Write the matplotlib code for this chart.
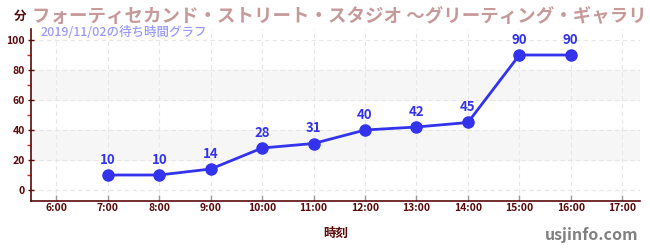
import matplotlib.pyplot as plt
from matplotlib.ticker import MultipleLocator

plt.rcParams['font.family'] = ['Noto Sans CJK JP', 'DejaVu Sans']

hours = [7, 8, 9, 10, 11, 12, 13, 14, 15, 16]
waits = [10, 10, 14, 28, 31, 40, 42, 45, 90, 90]
tick_hours = list(range(6, 18))
tick_labels = ['%d:00' % h for h in tick_hours]

title = 'フォーティセカンド・ストリート・スタジオ ～グリーティング・ギャラリ'
subtitle = '2019/11/02の待ち時間グラフ'

dark = '#5a0a0a'
line_col = '#3333ee'

fig = plt.figure(figsize=(6.5, 2.5), dpi=100)
ax = fig.add_axes([0.048, 0.198, 0.937, 0.684])

ax.set_xlim(5.51, 17.35)
ax.set_ylim(-7, 107)
for lo, hi in [(20, 40), (60, 80)]:
    ax.axhspan(lo, hi, color='#f6f6f6', zorder=0)
ax.grid(True, color='#e6e6e6', linestyle=(0, (4, 3)), linewidth=0.8, zorder=0)

ax.plot(hours, waits, color=line_col, linewidth=2.0, marker='o', markersize=8, zorder=3)
for h, w in zip(hours, waits):
    ax.annotate(str(w), (h, w), xytext=(0, 6), textcoords='offset points',
                ha='center', va='bottom', color=line_col, fontsize=9.5, fontweight='bold')

ax.set_xticks(tick_hours)
ax.set_xticklabels(tick_labels, fontweight='bold')
ax.set_yticks(range(0, 101, 20))
ax.set_yticklabels([str(v) for v in range(0, 101, 20)], fontweight='bold')
ax.yaxis.set_minor_locator(MultipleLocator(10))
ax.tick_params(axis='x', which='major', direction='in', color='#999999', length=4, width=1,
               pad=2, labelsize=7.5, labelcolor=dark)
ax.tick_params(axis='y', which='major', direction='inout', color=dark, length=5, width=1,
               pad=2, labelsize=7.5, labelcolor=dark)
ax.tick_params(axis='y', which='minor', direction='out', colors='#dd2222', length=3, width=1)

for s in ['top', 'right']:
    ax.spines[s].set_visible(False)
for s in ['left', 'bottom']:
    ax.spines[s].set_color(dark)
    ax.spines[s].set_linewidth(1.2)

ax.set_xlabel('時刻', color=dark, fontsize=9, fontweight='bold', labelpad=10)

fig.text(0.022, 0.935, '分', color=dark, fontsize=9, fontweight='bold', va='center')
fig.text(0.05, 0.935, title, color='#c79a9a', fontsize=13.3, fontweight='bold', va='center')
fig.text(0.063, 0.872, subtitle, color='#9999ff', fontsize=9, fontweight='medium', va='center')
fig.text(0.982, 0.06, 'usjinfo.com', color='#808080', fontsize=11.5, fontweight='bold',
         ha='right', va='center')

fig.savefig('out.png', dpi=100)
